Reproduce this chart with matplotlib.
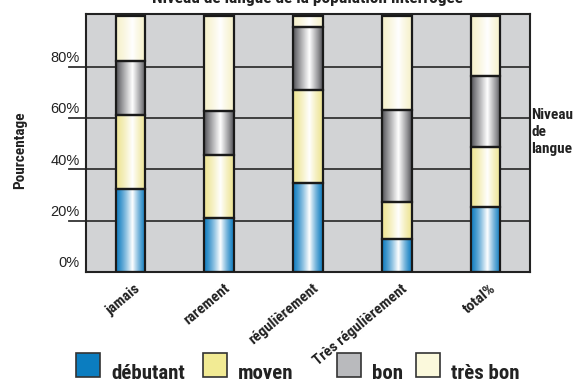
import numpy as np
import matplotlib
matplotlib.use('Agg')
import matplotlib.pyplot as plt
from matplotlib import font_manager
from matplotlib.colors import to_rgb
from matplotlib.patches import Rectangle
from matplotlib.transforms import blended_transform_factory, ScaledTranslation

# donnees (en %)
categories = ['jamais', 'rarement', 'régulièrement', 'Très régulièrement', 'total%']
niveaux = ['débutant', 'moyen', 'bon', 'très bon']
debutant = [32.3, 20.8, 34.7, 12.6, 25.4]
moyen = [29.1, 24.8, 36.4, 14.8, 23.4]
bon = [20.8, 17.1, 24.5, 35.7, 27.5]
tres_bon = [17.8, 37.3, 4.4, 36.9, 23.7]
yticks = [0, 20, 40, 60, 80]

series = [debutant, moyen, bon, tres_bon]
# couleur du bord du cylindre (degrade) et couleur pleine de la legende
bord = ['#1580c2', '#eee596', '#505055', '#f6f1cc']
plein = ['#0b7dc0', '#f2eb94', '#b9babd', '#fbf9dc']

# police etroite (type Helvetica Condensed) si disponible
installed = set(f.name for f in font_manager.fontManager.ttflist)
narrow = [n for n in ['Roboto Condensed', 'Archivo Narrow', 'PT Sans Narrow'] if n in installed][:1]
narrow += ['Liberation Sans', 'DejaVu Sans']
regular = ['Liberation Sans', 'DejaVu Sans']

W, H = 583, 379
fig = plt.figure(figsize=(W / 100, H / 100), dpi=100)
ax = fig.add_axes([86 / W, 1 - 271.7 / H, 444 / W, (271.7 - 14) / H])
ax.set_facecolor('#d2d3d5')
for s in ax.spines.values():
    s.set_linewidth(1.5)
    s.set_color('#222222')


def gradient(c, n=64, centre=0.55, p=1.3):
    t = np.linspace(0, 1, n)
    w = np.where(t < centre, t / centre, (1 - t) / (1 - centre))
    w = w ** p
    c = np.array(to_rgb(c))
    white = np.ones(3)
    return (c[None, :] * (1 - w[:, None]) + white[None, :] * w[:, None])[None, :, :]


x = np.arange(len(categories))
width = 0.332
bottom = np.zeros(len(categories))
for k, (vals, col) in enumerate(zip(series, bord)):
    vals = np.array(vals)
    g = gradient(col, p=0.9 if k == 2 else 1.3)
    for i in range(len(x)):
        ax.imshow(g, extent=(x[i] - width / 2, x[i] + width / 2, bottom[i], bottom[i] + vals[i]),
                  aspect='auto', interpolation='bilinear', zorder=2)
    ax.bar(x, vals, width, bottom=bottom, fill=False, edgecolor='#1a1a1a', linewidth=1.6, zorder=3)
    bottom += vals

ax.set_xlim(-0.5, len(categories) - 0.5)
ax.set_ylim(0, 100.7)

# lignes de grille qui depassent a gauche sous les etiquettes
blend = blended_transform_factory(ax.transAxes, ax.transData)
for v in yticks[1:]:
    ax.plot([-0.038, 1], [v, v], transform=blend, color='#333333', lw=1.3, clip_on=False, zorder=1)
ax.set_yticks([])
for v in yticks:
    ax.annotate('%d%%' % v, xy=(0, v), xycoords=blend, xytext=(-4.5, 1.2), textcoords='offset points',
                ha='right', va='bottom', fontsize=10.5, family=regular, color='#222222')

ax.set_xticks(x)
ax.set_xticklabels(categories, rotation=40, ha='right', va='top', rotation_mode='anchor',
                   fontsize=11, fontweight='bold', family=narrow, color='#222222')
ax.tick_params(axis='x', length=0, pad=7)
for lab in ax.get_xticklabels():
    lab.set_transform(lab.get_transform() + ScaledTranslation(4 / 100, 0, fig.dpi_scale_trans))

fig.text(307 / W, 1 - 3 / H, 'Niveau de langue de la population interrogée', ha='center', va='baseline',
         fontsize=12.5, fontweight='bold', family=narrow, color='#222222')
fig.text(20 / W, 1 - 150 / H, 'Pourcentage', rotation=90, ha='center', va='center',
         fontsize=11, fontweight='bold', family=narrow, color='#222222')
fig.text(531 / W, 1 - 132 / H, 'Niveau\nde\nlangue', ha='left', va='center', linespacing=1.3,
         fontsize=11, fontweight='bold', family=narrow, color='#222222')

# legende en bas
leg_x = [76, 203, 337, 416]
for lx, nom, col in zip(leg_x, niveaux, plein):
    fig.patches.append(Rectangle((lx / W, 1 - 377 / H), 24 / W, 24 / H, transform=fig.transFigure,
                                 facecolor=col, edgecolor='#333333', linewidth=1.2))
    fig.text((lx + 35) / W, 1 - 379 / H, nom, ha='left', va='baseline',
             fontsize=15, fontweight='bold', family=narrow, color='#222222')

fig.savefig('out.png', dpi=100)
